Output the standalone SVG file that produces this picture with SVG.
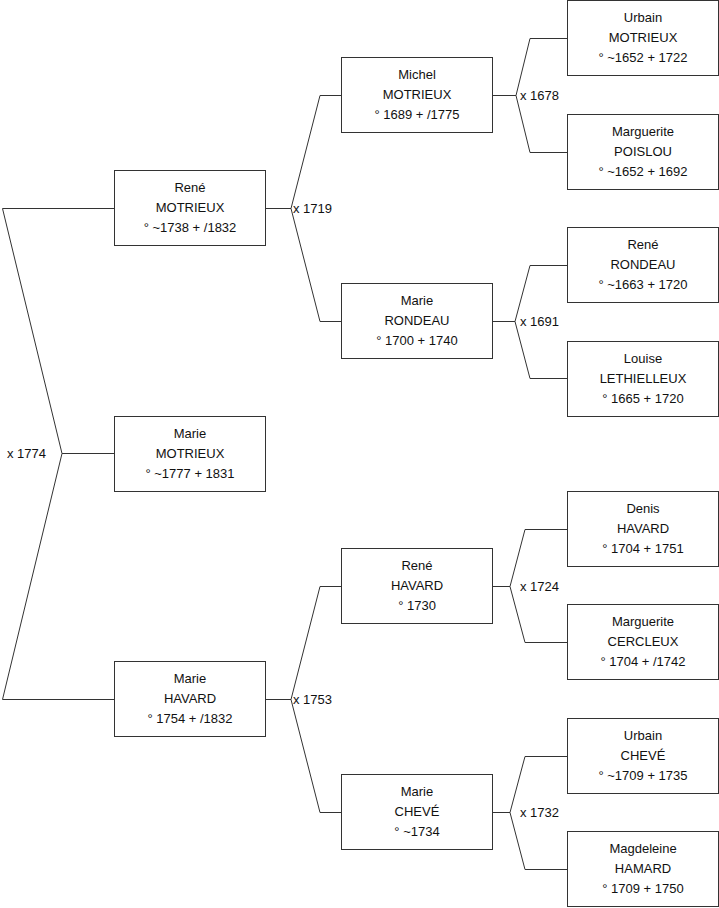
<svg xmlns="http://www.w3.org/2000/svg" width="719" height="908" viewBox="0 0 719 908">
<style>
rect.box{fill:#fff;stroke:#333;stroke-width:1}
.c{fill:none;stroke:#333;stroke-width:1}
text{font-family:"Liberation Sans",Arial,sans-serif;font-size:13px;fill:#111}
.n text{text-anchor:middle}
</style>
<rect width="719" height="908" fill="#fff"/>
<g id="connectors">
<polyline class="c" points="114,208.5 2.5,208.5 62,453.5 2.5,699.5 114,699.5"/>
<line class="c" x1="62" y1="453.5" x2="114" y2="453.5"/>
<text x="7" y="458">x 1774</text>
<line class="c" x1="265" y1="208.5" x2="291" y2="208.5"/>
<polyline class="c" points="341,95.5 320,95.5 291,208.5 320,321.5 341,321.5"/>
<text x="293" y="212.5">x 1719</text>
<line class="c" x1="265" y1="699.5" x2="291" y2="699.5"/>
<polyline class="c" points="341,586.5 320,586.5 291,699.5 320,812.5 341,812.5"/>
<text x="293" y="703.5">x 1753</text>
<line class="c" x1="492" y1="95.5" x2="516" y2="95.5"/>
<polyline class="c" points="567,38.5 530,38.5 516,95.5 530,152.5 567,152.5"/>
<text x="520" y="99.5">x 1678</text>
<line class="c" x1="492" y1="321.5" x2="515" y2="321.5"/>
<polyline class="c" points="567,265.5 530,265.5 515,321.5 530,378.5 567,378.5"/>
<text x="520" y="325.5">x 1691</text>
<line class="c" x1="492" y1="586.5" x2="510" y2="586.5"/>
<polyline class="c" points="567,529.5 525,529.5 510,586.5 525,642.5 567,642.5"/>
<text x="520" y="590.5">x 1724</text>
<line class="c" x1="492" y1="812.5" x2="510" y2="812.5"/>
<polyline class="c" points="567,756.5 525,756.5 510,812.5 525,869.5 567,869.5"/>
<text x="520" y="816.5">x 1732</text>
</g>
<g id="n-rene-motrieux" class="n"><rect class="box" x="114.5" y="170.5" width="151" height="75"/><text x="190" y="191.5">René</text><text x="190" y="211.5">MOTRIEUX</text><text x="190" y="231.5">° ~1738 + /1832</text></g>
<g id="n-marie-motrieux" class="n"><rect class="box" x="114.5" y="416.5" width="151" height="75"/><text x="190" y="437.5">Marie</text><text x="190" y="457.5">MOTRIEUX</text><text x="190" y="477.5">° ~1777 + 1831</text></g>
<g id="n-marie-havard" class="n"><rect class="box" x="114.5" y="661.5" width="151" height="75"/><text x="190" y="682.5">Marie</text><text x="190" y="702.5">HAVARD</text><text x="190" y="722.5">° 1754 + /1832</text></g>
<g id="n-michel-motrieux" class="n"><rect class="box" x="341.5" y="57.5" width="151" height="75"/><text x="417" y="78.5">Michel</text><text x="417" y="98.5">MOTRIEUX</text><text x="417" y="118.5">° 1689 + /1775</text></g>
<g id="n-marie-rondeau" class="n"><rect class="box" x="341.5" y="283.5" width="151" height="75"/><text x="417" y="304.5">Marie</text><text x="417" y="324.5">RONDEAU</text><text x="417" y="344.5">° 1700 + 1740</text></g>
<g id="n-rene-havard" class="n"><rect class="box" x="341.5" y="548.5" width="151" height="75"/><text x="417" y="569.5">René</text><text x="417" y="589.5">HAVARD</text><text x="417" y="609.5">° 1730</text></g>
<g id="n-marie-cheve" class="n"><rect class="box" x="341.5" y="774.5" width="151" height="75"/><text x="417" y="795.5">Marie</text><text x="417" y="815.5">CHEVÉ</text><text x="417" y="835.5">° ~1734</text></g>
<g id="n-urbain-motrieux" class="n"><rect class="box" x="567.5" y="0.5" width="151" height="75"/><text x="643" y="21.5">Urbain</text><text x="643" y="41.5">MOTRIEUX</text><text x="643" y="61.5">° ~1652 + 1722</text></g>
<g id="n-marguerite-poislou" class="n"><rect class="box" x="567.5" y="114.5" width="151" height="75"/><text x="643" y="135.5">Marguerite</text><text x="643" y="155.5">POISLOU</text><text x="643" y="175.5">° ~1652 + 1692</text></g>
<g id="n-rene-rondeau" class="n"><rect class="box" x="567.5" y="227.5" width="151" height="75"/><text x="643" y="248.5">René</text><text x="643" y="268.5">RONDEAU</text><text x="643" y="288.5">° ~1663 + 1720</text></g>
<g id="n-louise-lethielleux" class="n"><rect class="box" x="567.5" y="341.5" width="151" height="75"/><text x="643" y="362.5">Louise</text><text x="643" y="382.5">LETHIELLEUX</text><text x="643" y="402.5">° 1665 + 1720</text></g>
<g id="n-denis-havard" class="n"><rect class="box" x="567.5" y="491.5" width="151" height="75"/><text x="643" y="512.5">Denis</text><text x="643" y="532.5">HAVARD</text><text x="643" y="552.5">° 1704 + 1751</text></g>
<g id="n-marguerite-cercleux" class="n"><rect class="box" x="567.5" y="604.5" width="151" height="75"/><text x="643" y="625.5">Marguerite</text><text x="643" y="645.5">CERCLEUX</text><text x="643" y="665.5">° 1704 + /1742</text></g>
<g id="n-urbain-cheve" class="n"><rect class="box" x="567.5" y="718.5" width="151" height="75"/><text x="643" y="739.5">Urbain</text><text x="643" y="759.5">CHEVÉ</text><text x="643" y="779.5">° ~1709 + 1735</text></g>
<g id="n-magdeleine-hamard" class="n"><rect class="box" x="567.5" y="831.5" width="151" height="75"/><text x="643" y="852.5">Magdeleine</text><text x="643" y="872.5">HAMARD</text><text x="643" y="892.5">° 1709 + 1750</text></g>
</svg>
